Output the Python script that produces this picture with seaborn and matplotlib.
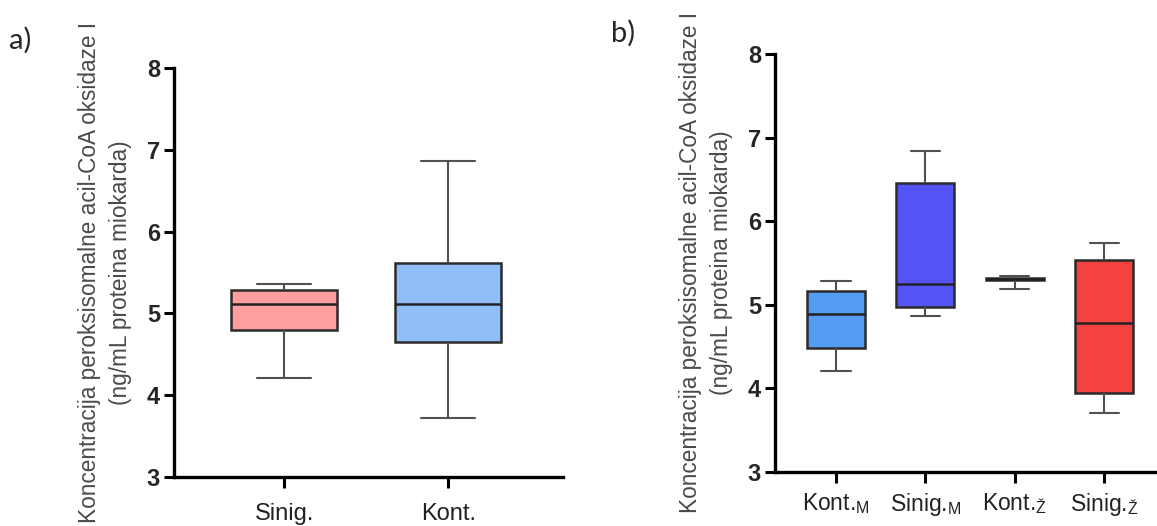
import matplotlib
matplotlib.use("Agg")
import matplotlib.pyplot as plt
import seaborn as sns
import pandas as pd

# ---- data (five-number summaries) ----
a_groups = ["Sinig.", "Kont."]
a_min = [4.21, 3.72]
a_q1 = [4.80, 4.65]
a_med = [5.12, 5.11]
a_q3 = [5.29, 5.61]
a_max = [5.36, 6.86]
a_colors = ["#FF9E9E", "#90BFF8"]

b_groups = ["Kont.$_\\mathregular{M}$", "Sinig.$_\\mathregular{M}$",
            "Kont.$_\\mathregular{Ž}$", "Sinig.$_\\mathregular{Ž}$"]
b_min = [4.21, 4.87, 5.19, 3.71]
b_q1 = [4.48, 4.97, 5.30, 3.94]
b_med = [4.89, 5.25, 5.31, 4.78]
b_q3 = [5.17, 6.46, 5.32, 5.53]
b_max = [5.28, 6.84, 5.35, 5.74]
b_colors = ["#559CF6", "#5353F6", "#222222", "#F64141"]

ylabel = "Koncentracija peroksisomalne acil-CoA oksidaze I\n(ng/mL proteina miokarda)"
yticks = [3, 4, 5, 6, 7, 8]


def frame(groups, mins, q1s, meds, q3s, maxs):
    rows = []
    for g, *vals in zip(groups, mins, q1s, meds, q3s, maxs):
        for v in vals:
            rows.append({"group": g, "value": v})
    return pd.DataFrame(rows)


sns.set_theme(style="white")
plt.rcParams["font.family"] = ["Liberation Sans", "DejaVu Sans"]
plt.rcParams["mathtext.fontset"] = "custom"
plt.rcParams["mathtext.rm"] = "Liberation Sans"

fig = plt.figure(figsize=(11.57, 5.26), dpi=100)
ax_a = fig.add_axes([0.1504, 0.0932, 0.3362, 0.7776])
ax_b = fig.add_axes([0.6698, 0.1027, 0.3302, 0.7947])

specs = [
    (ax_a, frame(a_groups, a_min, a_q1, a_med, a_q3, a_max), a_groups, a_colors, (-0.671, 1.70), 17, 11),
    (ax_b, frame(b_groups, b_min, b_q1, b_med, b_q3, b_max), b_groups, b_colors, (-0.683, 3.59), 16.5, 6),
]

for ax, df, groups, colors, xl, xfs, xpad in specs:
    sns.boxplot(data=df, x="group", y="value", hue="group", order=groups,
                hue_order=groups, palette=colors, saturation=1, width=0.65,
                whis=(0, 100), legend=False, ax=ax, linewidth=1.6,
                boxprops=dict(edgecolor="#2b2b2b", linewidth=1.8),
                whiskerprops=dict(color="#505050", linewidth=1.5),
                capprops=dict(color="#505050", linewidth=1.5),
                medianprops=dict(color="#222222", linewidth=1.8))
    ax.set_ylim(3, 8)
    ax.set_xlim(*xl)
    ax.set_yticks(yticks)
    ax.set_yticklabels([str(t) for t in yticks], fontweight="bold", fontsize=17)
    ax.set_xlabel("")
    ax.set_ylabel(ylabel, fontsize=16.3, color="#4a4a4a", labelpad=11, linespacing=1.4)
    for s in ["top", "right"]:
        ax.spines[s].set_visible(False)
    for s in ["left", "bottom"]:
        ax.spines[s].set_linewidth(2.4)
        ax.spines[s].set_color("black")
    ax.tick_params(axis="y", length=7, width=2.2, color="black", pad=3, left=True)
    ax.tick_params(axis="x", length=8, width=2.2, color="black", pad=xpad,
                   labelsize=xfs, bottom=True)
    for lab in ax.get_xticklabels():
        lab.set_color("#222222")

fig.text(0.008, 0.924, "a)", fontsize=21, family=["Lato", "DejaVu Sans"], va="center")
fig.text(0.528, 0.937, "b)", fontsize=21, family=["Lato", "DejaVu Sans"], va="center")

fig.savefig("out.png", dpi=100)
